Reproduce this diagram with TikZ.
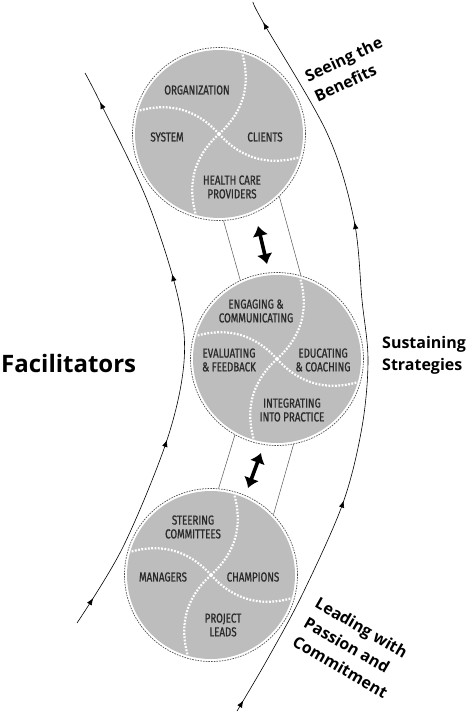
\documentclass[tikz,border=0pt]{standalone}
\usepackage{fontspec}
\setmainfont{Open Sans}
\newfontfamily\condf[FakeStretch=0.75, FakeBold=0.8]{Fira Sans}
\usetikzlibrary{arrows.meta,calc,decorations.markings}
\definecolor{circfill}{HTML}{BDBDBD}
\definecolor{circtext}{HTML}{2A2A2A}
\definecolor{rimgray}{HTML}{505050}
\definecolor{conngray}{HTML}{555555}
\tikzset{fa/.tip={Latex[length=7pt,width=5.5pt]}}
\begin{document}
\begin{tikzpicture}[x=1pt,y=-1pt,
  rim/.style={circle, draw=rimgray, dash pattern=on 1.6pt off 1.1pt, line width=0.7pt, minimum size=173pt, inner sep=0pt},
  wdots/.style={white, line width=2.2pt, dash pattern=on 1.8pt off 1.5pt},
  ctext/.style={font=\condf\fontsize{13}{13.8}\selectfont, text=circtext, align=center, inner sep=0pt},
  biglbl/.style={font=\bfseries\fontsize{16}{22.5}\selectfont, align=left, inner sep=0pt},
  conn/.style={draw=conngray, line width=0.5pt},
  dbl/.style={{Latex[length=10pt,width=16pt]}-{Latex[length=10pt,width=16pt]}, line width=3.6pt, black},
  flowline/.style={line width=0.6pt, black}
]
\useasboundingbox (0,0) rectangle (472,718);

% circles
\foreach \nm/\cx/\cy in {c1/219/134, c2/277/359, c3/211/575}{
  \fill[circfill] (\cx,\cy) circle[radius=84pt];
  \node[rim] (\nm) at (\cx,\cy) {};
  \foreach \a in {74,164,254,344}{
    \draw[wdots] (\nm.center) to[bend right=32] ($(\nm.center)+(\a:84pt)$);
  }
}

% texts top circle
\node[ctext] (t1a) at (197,90) {ORGANIZATION};
\node[ctext] (t1b) at (167,137) {SYSTEM};
\node[ctext] (t1c) at (265,137) {CLIENTS};
\node[ctext] (t1d) at (232,187) {HEALTH CARE\\PROVIDERS};
% middle
\node[ctext] (t2a) at (256,311) {ENGAGING \&\\COMMUNICATING};
\node[ctext] (t2b) at (229,360) {EVALUATING\\\& FEEDBACK};
\node[ctext] (t2c) at (323,360) {EDUCATING\\\& COACHING};
\node[ctext] (t2d) at (292,410) {INTEGRATING\\INTO PRACTICE};
% bottom
\node[ctext] (t3a) at (193,527) {STEERING\\COMMITTEES};
\node[ctext] (t3b) at (163,577) {MANAGERS};
\node[ctext] (t3c) at (253,577) {CHAMPIONS};
\node[ctext] (t3d) at (223,625) {PROJECT\\LEADS};

% connectors between circles
\draw[conn] (c1.-87) -- (c2.115);
\draw[conn] (c1.-46) -- (c2.74);
\draw[conn] (c2.241) -- (c3.85);
\draw[conn] (c2.-79) -- (c3.44);

% double arrows
\coordinate (a1s) at (258,226);
\coordinate (a1e) at (267,264);
\draw[dbl] (a1s) -- (a1e);
\coordinate (a2s) at (261,453);
\coordinate (a2e) at (248,488);
\draw[dbl] (a2s) -- (a2e);

% left flow curve
\draw[flowline, postaction={decorate}, decoration={markings,
  mark=at position 0.05 with {\arrow{fa}},
  mark=at position 0.345 with {\arrow{fa}},
  mark=at position 0.63 with {\arrow{fa}},
  mark=at position 0.945 with {\arrow{fa}}}]
  plot[smooth, tension=0.55] coordinates {(77,623) (123,547) (167,440) (184,362) (178,297) (147,200) (100,102) (85,73)};

% right flow curve
\draw[flowline, postaction={decorate}, decoration={markings,
  mark=at position 0.016 with {\arrow{fa}},
  mark=at position 0.31 with {\arrow{fa}},
  mark=at position 0.68 with {\arrow{fa}},
  mark=at position 0.97 with {\arrow{fa}}}]
  plot[smooth, tension=0.55] coordinates {(237,711) (267,660) (303,593) (343,503) (362,427) (368,360) (362,300) (354,220) (327,133) (263,22) (253,2)};

% labels
\node[biglbl, anchor=north west, rotate=25] (lsee) at (303,71) {Seeing the\\Benefits};
\node[biglbl, anchor=north west] (lsus) at (382,336) {Sustaining\\Strategies};
\node[biglbl, anchor=north west, rotate=-30] (llead) at (320,596) {Leading with\\Passion and\\Commitment};
\node[font=\bfseries\fontsize{24}{28}\selectfont, anchor=base west, inner sep=0pt] (lfac) at (1,372) {Facilitators};
\end{tikzpicture}
\end{document}
